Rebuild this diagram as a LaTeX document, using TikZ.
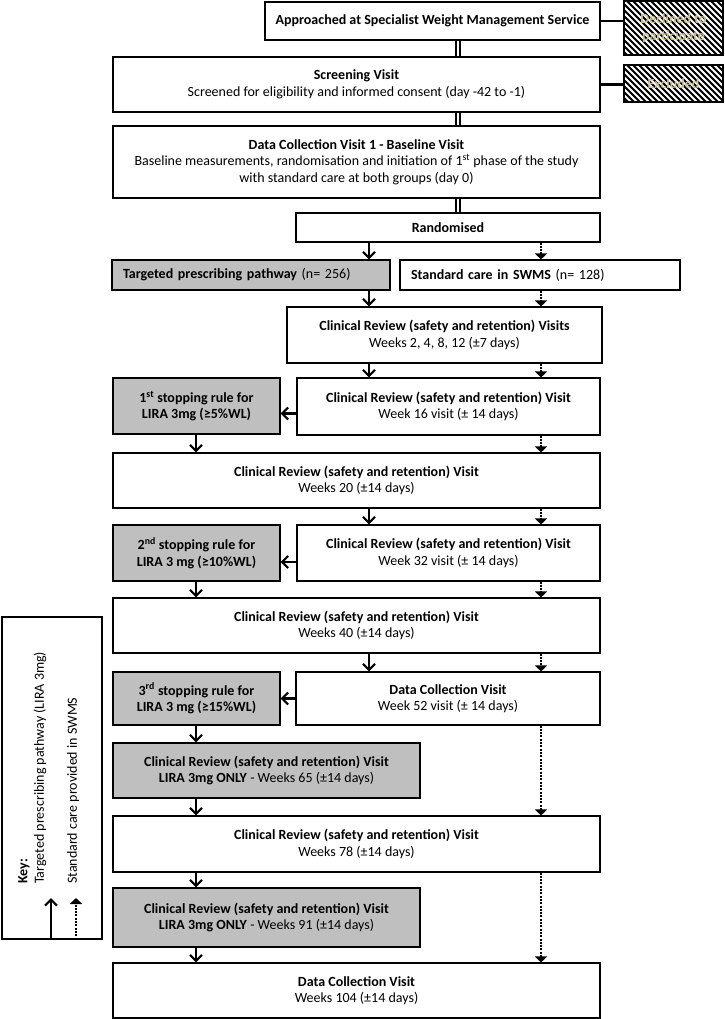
\documentclass[tikz,border=0pt]{standalone}
\usepackage{fontspec}
\setmainfont{Carlito}
\usetikzlibrary{arrows.meta}
\definecolor{boxgray}{RGB}{191,191,191}
\definecolor{tan}{RGB}{200,192,150}
\tikzset{
  x=1pt, y=-1pt,
  box/.style={draw=black, line width=1.1pt, fill=white, inner sep=0pt, align=center,
    font=\fontsize{14}{16.5}\selectfont},
  gbox/.style={box, fill=boxgray},
  hatchbox/.style={draw=black, line width=1.1pt, fill=black, inner sep=0pt, align=center,
    text=tan, font=\bfseries\fontsize{14}{16.5}\selectfont,
    path picture={\foreach \o in {-72,-66,...,110}
      \draw[white, line width=2pt] ([xshift=\o pt]path picture bounding box.north west) -- ++(72pt,-72pt);}},
  solidarr/.style={line width=2.2pt, -{Straight Barb[length=6pt,width=12pt]}},
  dotarr/.style={line width=2.2pt, dash pattern=on 2pt off 1.3pt, -{Triangle[length=6pt,width=12pt]}},
  dbl/.style={line width=1.7pt, double, double distance=2.2pt},
  plainline/.style={line width=2.5pt},
}
% \mybox{style}{name}{x1}{y1}{x2}{y2}{text}
\newcommand\mybox[7]{%
  \node[#1, minimum width={(#5-#3)*1pt}, minimum height={(#6-#4)*1pt}] (#2)
    at ({(#3+#5)/2},{(#4+#6)/2}) {#7};}
\begin{document}
\begin{tikzpicture}
\useasboundingbox (0,0) rectangle (724,1019);
% column coordinates
\coordinate (dblcol) at (458,0);
\coordinate (scol) at (369,0);
\coordinate (lcol) at (196,0);
\coordinate (dcol) at (541,0);

\mybox{box}{A}{265}{2}{600}{40}{\textbf{Approached at Specialist Weight Management Service}}
\mybox{hatchbox}{decl}{624}{1}{723}{55}{Declined to\\participate}
\mybox{box}{B}{113}{57}{600}{112}{\textbf{Screening Visit}\\Screened for eligibility and informed consent (day -42 to -1)}
\mybox{hatchbox}{excl}{624}{65}{723}{102}{Excluded}
\mybox{box}{C}{113}{126}{600}{198}{\textbf{Data Collection Visit 1 - Baseline Visit}\\Baseline measurements, randomisation and initiation of 1\textsuperscript{st} phase of the study\\with standard care at both groups (day 0)}
\mybox{box}{rand}{296}{213}{600}{242}{\textbf{Randomised}}
\node[gbox, minimum height=30pt, text width=256pt, inner xsep=11pt, align=left] (tgt) at (251,275)
  {\textbf{Targeted prescribing pathway} (n= 256)};
\node[box, minimum height=30pt, text width=258pt, inner xsep=11pt, align=left] (std) at (540,275)
  {\textbf{Standard care in SWMS} (n= 128)};
\mybox{box}{cr1}{287}{307}{602}{363}{\textbf{Clinical Review (safety and retention) Visits}\\Weeks 2, 4, 8, 12 (±7 days)}
\mybox{box}{cr2}{297}{378}{600}{435}{\textbf{Clinical Review (safety and retention) Visit}\\Week 16 visit (± 14 days)}
\mybox{gbox}{stop1}{113}{378}{280}{434}{\textbf{1\textsuperscript{st} stopping rule for}\\\textbf{LIRA 3mg (≥5\%WL)}}
\mybox{box}{cr3}{113}{453}{600}{508}{\textbf{Clinical Review (safety and retention) Visit}\\Weeks 20 (±14 days)}
\mybox{box}{cr4}{297}{525}{600}{581}{\textbf{Clinical Review (safety and retention) Visit}\\Week 32 visit (± 14 days)}
\mybox{gbox}{stop2}{113}{525}{280}{581}{\textbf{2\textsuperscript{nd} stopping rule for}\\\textbf{LIRA 3 mg (≥10\%WL)}}
\mybox{box}{cr5}{113}{598}{600}{653}{\textbf{Clinical Review (safety and retention) Visit}\\Weeks 40 (±14 days)}
\mybox{box}{cr6}{296}{672}{600}{725}{\textbf{Data Collection Visit}\\Week 52 visit (± 14 days)}
\mybox{gbox}{stop3}{113}{672}{280}{725}{\textbf{3\textsuperscript{rd} stopping rule for}\\\textbf{LIRA 3 mg (≥15\%WL)}}
\mybox{gbox}{cr65}{113}{743}{420}{798}{\textbf{Clinical Review (safety and retention) Visit}\\\textbf{LIRA 3mg ONLY} - Weeks 65 (±14 days)}
\mybox{box}{cr7}{113}{816}{600}{872}{\textbf{Clinical Review (safety and retention) Visit}\\Weeks 78 (±14 days)}
\mybox{gbox}{cr91}{113}{888}{420}{947}{\textbf{Clinical Review (safety and retention) Visit}\\\textbf{LIRA 3mg ONLY} - Weeks 91 (±14 days)}
\mybox{box}{final}{113}{963}{600}{1018}{\textbf{Data Collection Visit}\\Weeks 104 (±14 days)}

% key
\mybox{box}{key}{2}{617}{102}{939}{}
\node[rotate=90, anchor=north west, inner sep=0pt, align=left,
  font=\fontsize{14}{16.5}\selectfont] (keytext) at (18,884)
  {\textbf{Key:}\\Targeted prescribing pathway (LIRA 3mg)\\[16.5pt]Standard care provided in SWMS};
\coordinate (ktipS) at (51,898);
\coordinate (ktipD) at (76,898);
\draw[solidarr] (key.south -| ktipS) -- (ktipS);
\draw[dotarr] (key.south -| ktipD) -- (ktipD);

% top connectors
\draw[dbl] (A.south -| dblcol) -- (B.north -| dblcol);
\draw[dbl] (B.south -| dblcol) -- (C.north -| dblcol);
\draw[dbl] (C.south -| dblcol) -- (rand.north -| dblcol);
\draw[plainline] (A.east) -- (A.east -| decl.west);
\draw[plainline] (B.east) -- (B.east -| excl.west);

% solid (targeted) pathway
\draw[solidarr] (rand.south -| scol) -- (tgt.north -| scol);
\draw[solidarr] (tgt.south -| scol) -- (cr1.north -| scol);
\draw[solidarr] (cr1.south -| scol) -- (cr2.north -| scol);
\draw[solidarr] ([yshift=-7pt]cr2.west) -- ([yshift=-7pt]cr2.west -| stop1.east);
\draw[solidarr] (stop1.south -| lcol) -- (cr3.north -| lcol);
\draw[solidarr] (cr3.south -| scol) -- (cr4.north -| scol);
\draw[solidarr] ([yshift=-9pt]cr4.west) -- ([yshift=-9pt]cr4.west -| stop2.east);
\draw[solidarr] (stop2.south -| lcol) -- (cr5.north -| lcol);
\draw[solidarr] (cr5.south -| scol) -- (cr6.north -| scol);
\draw[solidarr] (cr6.west) -- (cr6.west -| stop3.east);
\draw[solidarr] (stop3.south -| lcol) -- (cr65.north -| lcol);
\draw[solidarr] (cr65.south -| lcol) -- (cr7.north -| lcol);
\draw[solidarr] (cr7.south -| lcol) -- (cr91.north -| lcol);
\draw[solidarr] (cr91.south -| lcol) -- (final.north -| lcol);

% dotted (standard care) pathway
\draw[dotarr] (rand.south -| dcol) -- (std.north -| dcol);
\draw[dotarr] (std.south -| dcol) -- (cr1.north -| dcol);
\draw[dotarr] (cr1.south -| dcol) -- (cr2.north -| dcol);
\draw[dotarr] (cr2.south -| dcol) -- (cr3.north -| dcol);
\draw[dotarr] (cr3.south -| dcol) -- (cr4.north -| dcol);
\draw[dotarr] (cr4.south -| dcol) -- (cr5.north -| dcol);
\draw[dotarr] (cr5.south -| dcol) -- (cr6.north -| dcol);
\draw[dotarr] (cr6.south -| dcol) -- (cr7.north -| dcol);
\draw[dotarr] (cr7.south -| dcol) -- (final.north -| dcol);
\end{tikzpicture}
\end{document}
